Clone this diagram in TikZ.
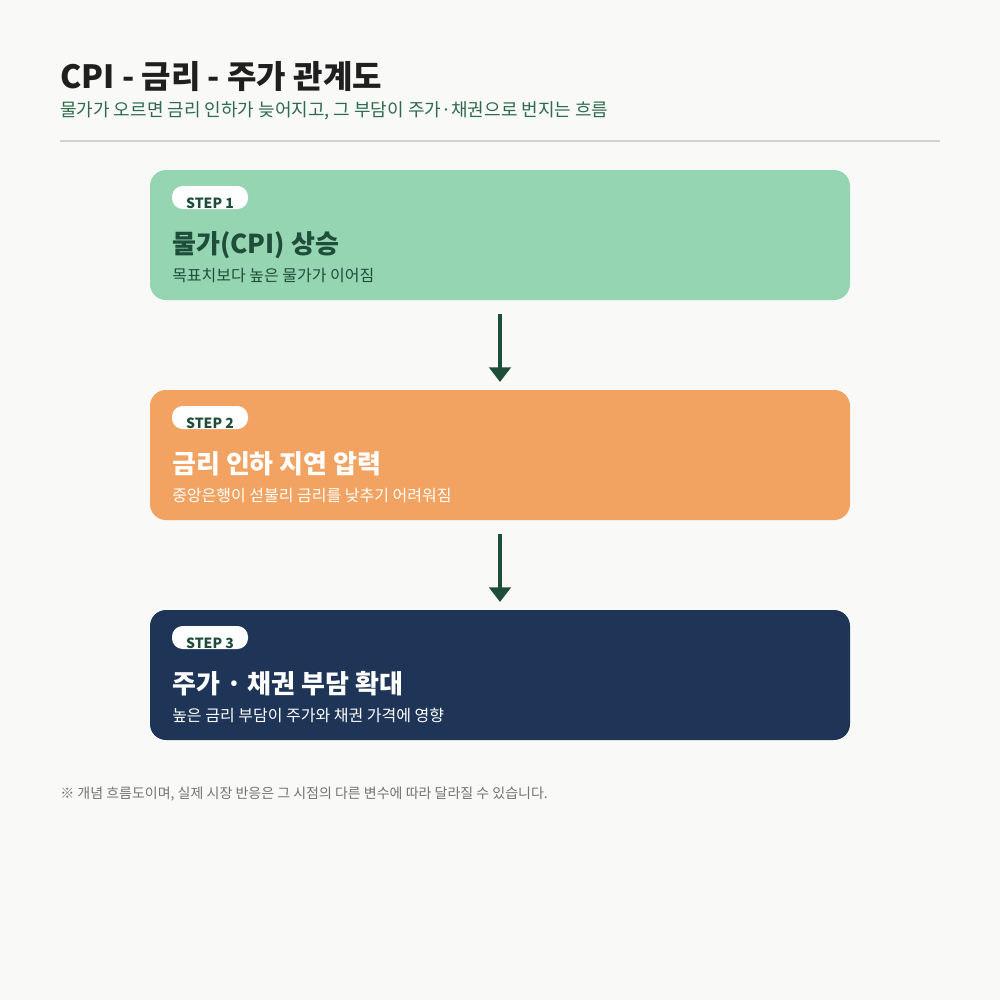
\documentclass[tikz,border=0pt]{standalone}
\usepackage{fontspec}
\setmainfont{Noto Sans CJK KR}
\usetikzlibrary{arrows.meta}
\definecolor{bg}{HTML}{F9F9F7}
\definecolor{dgreen}{HTML}{1E4D3A}
\definecolor{sgreen}{HTML}{2E6B4E}
\definecolor{cgreen}{HTML}{96D5B2}
\definecolor{corange}{HTML}{F2A361}
\definecolor{cnavy}{HTML}{1E3557}
\begin{document}
\begin{tikzpicture}[x=0.75pt,y=-0.75pt,
  card/.style={rounded corners=12pt},
  badge/.style={fill=white,rounded corners=8pt},
  steptxt/.style={anchor=base,font=\fontsize{10.5}{12}\selectfont\bfseries,text=dgreen},
  ttl/.style={anchor=base west,font=\fontsize{19.5}{22}\selectfont\bfseries,inner sep=0},
  sub/.style={anchor=base west,font=\fontsize{12}{14}\selectfont,inner sep=0},
  arr/.style={draw=dgreen,line width=3.2pt,-{Triangle[width=16pt,length=11pt]}}]
\fill[bg] (0,0) rectangle (1000,1000);
\useasboundingbox (0,0) rectangle (1000,1000);
\node[anchor=base west,inner sep=0,font=\fontsize{24}{28}\selectfont\bfseries,text=black!88] (title) at (60,88) {CPI - 금리 - 주가 관계도};
\node[anchor=base west,inner sep=0,font=\fontsize{13.5}{16}\selectfont,text=sgreen] (subtitle) at (60,116) {물가가 오르면 금리 인하가 늦어지고, 그 부담이 주가·채권으로 번지는 흐름};
\draw[black!18,line width=1.5pt] (60,141) -- (940,141);
% cards
\fill[cgreen,card] (150,170) rectangle (850,300);
\fill[corange,card] (150,390) rectangle (850,520);
\fill[cnavy,card] (150,610) rectangle (850,740);
\coordinate (c1) at (500,300); \coordinate (c2t) at (500,390);
\coordinate (c2) at (500,520); \coordinate (c3t) at (500,610);
\foreach \y/\n in {170/1,390/2,610/3}{
  \fill[badge] (172,\y+16) rectangle (248,\y+39);
  \node[steptxt] (s\n) at (210,\y+38) {STEP \n};
}
\node[ttl,text=dgreen] (t1) at (172,253) {물가(CPI) 상승};
\node[sub,text=dgreen] (u1) at (172,281) {목표치보다 높은 물가가 이어짐};
\node[ttl,text=white] (t2) at (172,473) {금리 인하 지연 압력};
\node[sub,text=white] (u2) at (172,501) {중앙은행이 섣불리 금리를 낮추기 어려워짐};
\node[ttl,text=white] (t3) at (172,693) {주가 · 채권 부담 확대};
\node[sub,text=white] (u3) at (172,721) {높은 금리 부담이 주가와 채권 가격에 영향};
\draw[arr] ([yshift=-14*0.75pt]c1) -- ([yshift=8*0.75pt]c2t);
\draw[arr] ([yshift=-14*0.75pt]c2) -- ([yshift=8*0.75pt]c3t);
\node[anchor=base west,inner sep=0,font=\fontsize{10.5}{12}\selectfont,text=black!55] (note) at (60,798) {※ 개념 흐름도이며, 실제 시장 반응은 그 시점의 다른 변수에 따라 달라질 수 있습니다.};
\end{tikzpicture}
\end{document}
